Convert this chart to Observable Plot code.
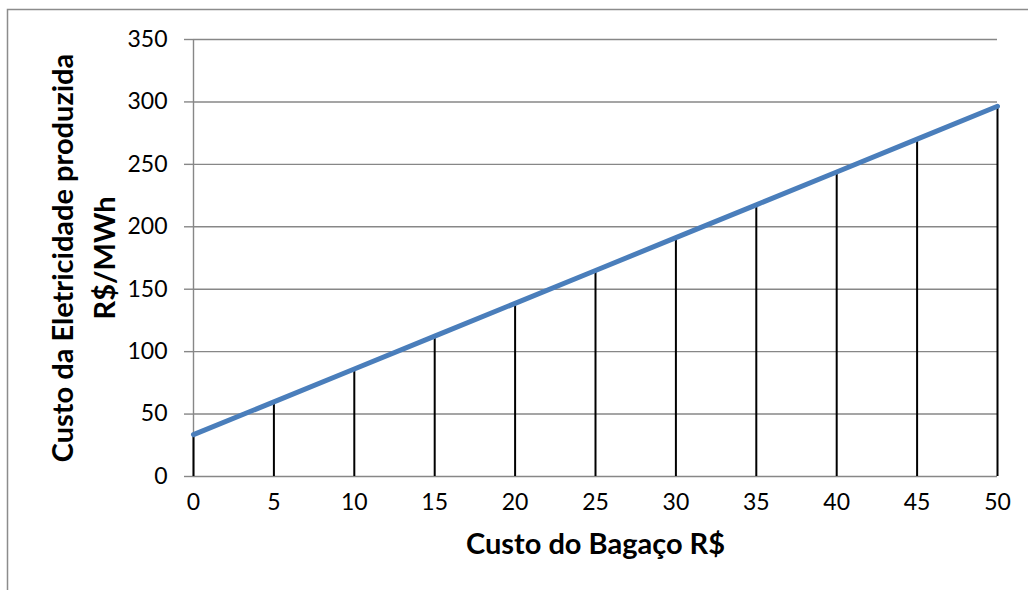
<!DOCTYPE html>
<html>
<head>
<meta charset="utf-8">
<script src="https://cdn.jsdelivr.net/npm/d3@7"></script>
<script src="https://cdn.jsdelivr.net/npm/@observablehq/plot@0.6"></script>
<style>
  html, body { margin: 0; padding: 0; background: #fff; }
  #chart svg { display: block; }
</style>
</head>
<body>
<div id="chart"></div>
<script>
// Bagasse cost (R$) and resulting electricity cost (R$/MWh)
const bagasseCost = [0, 5, 10, 15, 20, 25, 30, 35, 40, 45, 50];
const electricityCost = [33.5, 59.8, 86.1, 112.4, 138.7, 165.0, 191.3, 217.6, 243.9, 270.2, 296.5];
const yTicks = [0, 50, 100, 150, 200, 250, 300, 350];
const xTicks = [0, 5, 10, 15, 20, 25, 30, 35, 40, 45, 50];
const xTitle = "Custo do Bagaço R$";
const yTitleLines = ["Custo da Eletricidade produzida", "R$/MWh"];

const data = bagasseCost.map((x, i) => ({x, y: electricityCost[i]}));

const gridColor = "#878787";
const font = "Lato, 'Open Sans', sans-serif";
const titleSize = 29;

const chart = Plot.plot({
  width: 1028,
  height: 590,
  marginLeft: 193,
  marginRight: 31,
  marginTop: 39,
  marginBottom: 114,
  style: {fontFamily: font, fontSize: "23px", color: "#000", background: "#fff", overflow: "visible"},
  x: {domain: [0, 50], ticks: xTicks},
  y: {domain: [0, 350], ticks: yTicks},
  marks: [
    Plot.gridY(yTicks, {stroke: gridColor, strokeOpacity: 1, strokeWidth: 1.4}),
    Plot.ruleX([0], {stroke: gridColor, strokeWidth: 1.4}),
    Plot.axisY(yTicks, {tickSize: 9, tickPadding: 17, stroke: gridColor, strokeOpacity: 1, strokeWidth: 1.4, label: null, fill: "#000", fontSize: 23}),
    Plot.axisX(xTicks, {tickSize: 0, tickPadding: 17, label: null, fill: "#000", fontSize: 23}),
    Plot.ruleX(data, {x: "x", y1: 0, y2: "y", stroke: "#000", strokeWidth: 2}),
    Plot.line(data, {x: "x", y: "y", stroke: "#4a7ebb", strokeWidth: 5, strokeLinecap: "round"}),
    Plot.text([xTitle], {frameAnchor: "bottom", dy: 77, fontSize: titleSize, fontWeight: "bold", fill: "#000", lineAnchor: "bottom"}),
    Plot.text([yTitleLines[0]], {frameAnchor: "left", rotate: -90, dx: -130, textAnchor: "middle", fontSize: titleSize, fontWeight: "bold", fill: "#000"}),
    Plot.text([yTitleLines[1]], {frameAnchor: "left", rotate: -90, dx: -88, textAnchor: "middle", fontSize: titleSize, fontWeight: "bold", fill: "#000"})
  ]
});

// Outer chart border (top and left edges)
d3.select(chart).append("path")
  .attr("d", "M7.5,590V9.5H1028")
  .attr("fill", "none")
  .attr("stroke", "#8c8c8c")
  .attr("stroke-width", 1.5);

document.getElementById("chart").appendChild(chart);
</script>
</body>
</html>
